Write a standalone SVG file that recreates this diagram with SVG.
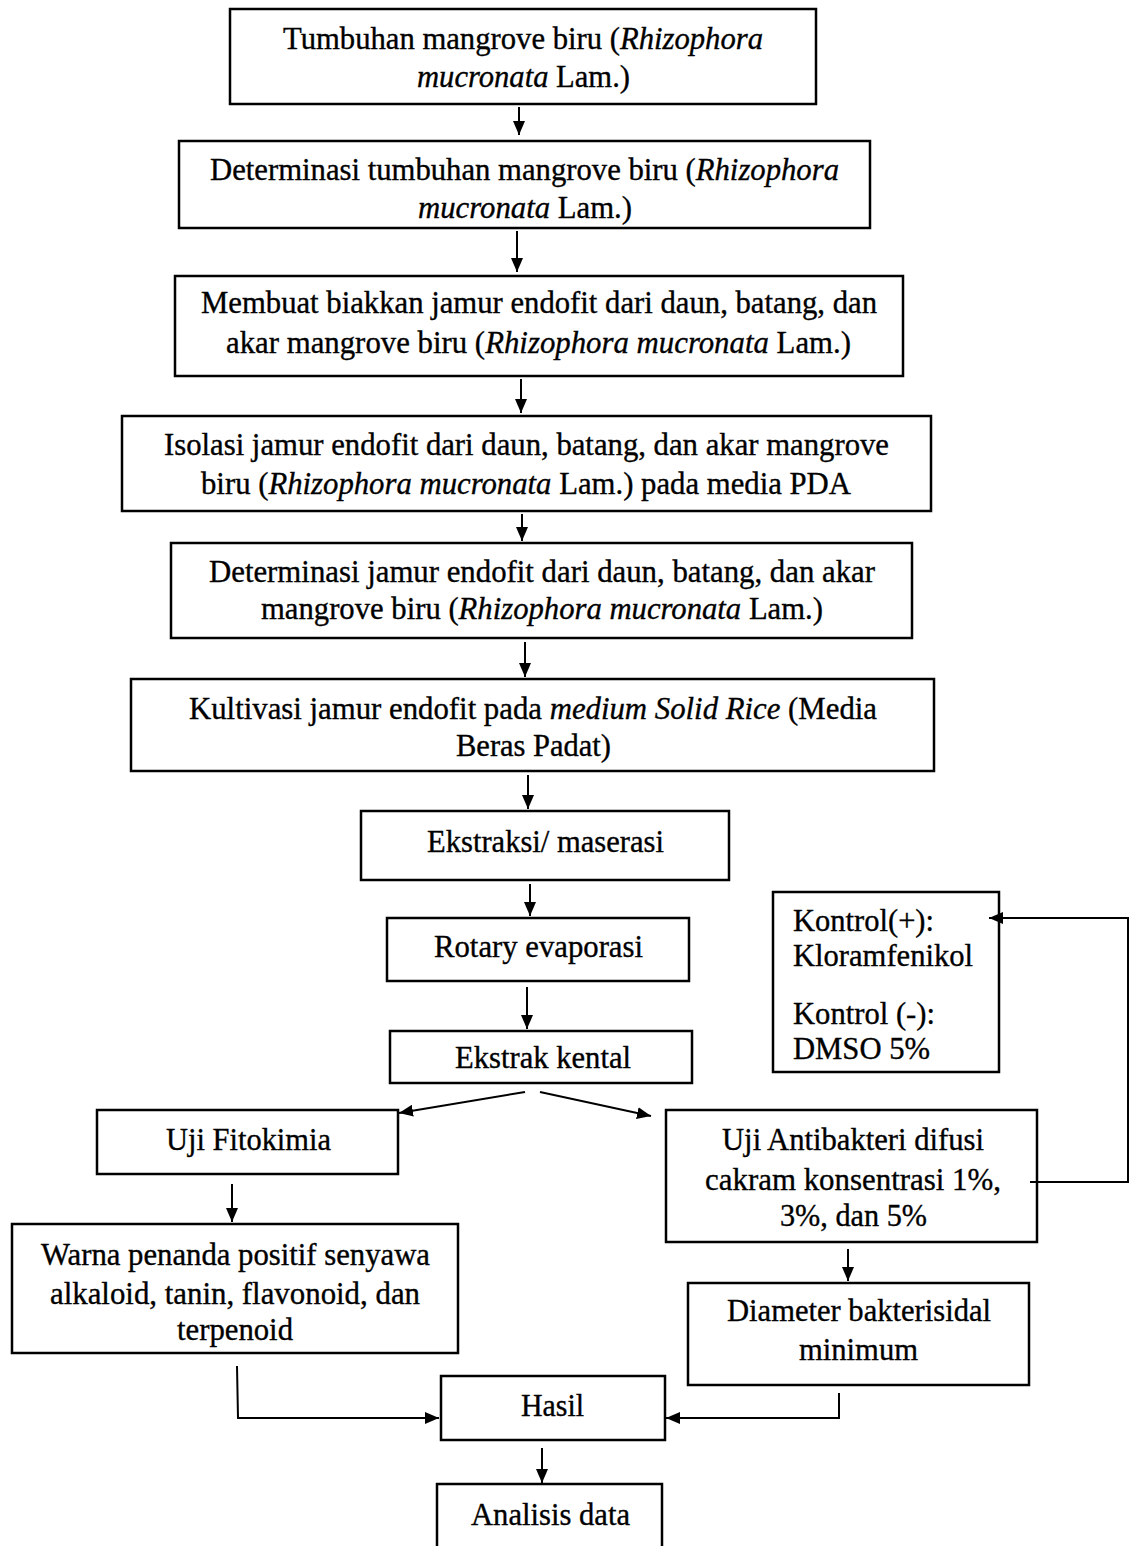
<svg xmlns="http://www.w3.org/2000/svg" width="1131" height="1546" viewBox="0 0 1131 1546">
<style>
.box{fill:#fff;stroke:#000;stroke-width:2.5}
.t{font-family:"Liberation Serif","Times New Roman",serif;font-size:31px;fill:#000;stroke:#000;stroke-width:0.35}
.i{font-style:italic}
.c{fill:none;stroke:#000;stroke-width:2}
</style>
<defs>
<marker id="ah" viewBox="0 0 14 12" refX="14" refY="6" markerWidth="14" markerHeight="12" markerUnits="userSpaceOnUse" orient="auto"><path d="M0,0 L14,6 L0,12 z" fill="#000"/></marker>
</defs>
<rect width="1131" height="1546" fill="#fff"/>
<g id="n1"><rect class="box" x="230" y="9" width="586" height="95"/>
<text class="t" x="283" y="49" textLength="480" lengthAdjust="spacingAndGlyphs">Tumbuhan mangrove biru (<tspan class="i">Rhizophora</tspan></text>
<text class="t" x="417" y="87" textLength="213" lengthAdjust="spacingAndGlyphs"><tspan class="i">mucronata</tspan> Lam.)</text></g>
<g id="n2"><rect class="box" x="179" y="141" width="691" height="87"/>
<text class="t" x="210" y="180" textLength="629" lengthAdjust="spacingAndGlyphs">Determinasi tumbuhan mangrove biru (<tspan class="i">Rhizophora</tspan></text>
<text class="t" x="418" y="218" textLength="214" lengthAdjust="spacingAndGlyphs"><tspan class="i">mucronata</tspan> Lam.)</text></g>
<g id="n3"><rect class="box" x="175" y="276" width="728" height="100"/>
<text class="t" x="201" y="313" textLength="676" lengthAdjust="spacingAndGlyphs">Membuat biakkan jamur endofit dari daun, batang, dan</text>
<text class="t" x="226" y="353" textLength="625" lengthAdjust="spacingAndGlyphs">akar mangrove biru (<tspan class="i">Rhizophora mucronata</tspan> Lam.)</text></g>
<g id="n4"><rect class="box" x="122" y="416" width="809" height="95"/>
<text class="t" x="164" y="455" textLength="725" lengthAdjust="spacingAndGlyphs">Isolasi jamur endofit dari daun, batang, dan akar mangrove</text>
<text class="t" x="201" y="494" textLength="650" lengthAdjust="spacingAndGlyphs">biru (<tspan class="i">Rhizophora mucronata</tspan> Lam.) pada media PDA</text></g>
<g id="n5"><rect class="box" x="171" y="543" width="741" height="95"/>
<text class="t" x="209" y="582" textLength="666" lengthAdjust="spacingAndGlyphs">Determinasi jamur endofit dari daun, batang, dan akar</text>
<text class="t" x="261" y="619" textLength="562" lengthAdjust="spacingAndGlyphs">mangrove biru (<tspan class="i">Rhizophora mucronata</tspan> Lam.)</text></g>
<g id="n6"><rect class="box" x="131" y="679" width="803" height="92"/>
<text class="t" x="189" y="719" textLength="688" lengthAdjust="spacingAndGlyphs">Kultivasi jamur endofit pada <tspan class="i">medium Solid Rice</tspan> (Media</text>
<text class="t" x="456" y="756" textLength="155" lengthAdjust="spacingAndGlyphs">Beras Padat)</text></g>
<g id="n7"><rect class="box" x="361" y="811" width="368" height="69"/>
<text class="t" x="427" y="852" textLength="237" lengthAdjust="spacingAndGlyphs">Ekstraksi/ maserasi</text></g>
<g id="n8"><rect class="box" x="387" y="918" width="302" height="63"/>
<text class="t" x="434" y="957" textLength="209" lengthAdjust="spacingAndGlyphs">Rotary evaporasi</text></g>
<g id="n9"><rect class="box" x="390" y="1031" width="302" height="52"/>
<text class="t" x="455" y="1068" textLength="176" lengthAdjust="spacingAndGlyphs">Ekstrak kental</text></g>
<g id="n10"><rect class="box" x="773" y="892" width="226" height="180"/>
<text class="t" x="793" y="931" textLength="141" lengthAdjust="spacingAndGlyphs">Kontrol(+):</text>
<text class="t" x="793" y="966" textLength="180" lengthAdjust="spacingAndGlyphs">Kloramfenikol</text>
<text class="t" x="793" y="1024" textLength="142" lengthAdjust="spacingAndGlyphs">Kontrol (-):</text>
<text class="t" x="793" y="1059" textLength="137" lengthAdjust="spacingAndGlyphs">DMSO 5%</text></g>
<g id="n11"><rect class="box" x="97" y="1110" width="301" height="64"/>
<text class="t" x="166" y="1150" textLength="165" lengthAdjust="spacingAndGlyphs">Uji Fitokimia</text></g>
<g id="n12"><rect class="box" x="666" y="1110" width="371" height="132"/>
<text class="t" x="722" y="1150" textLength="262" lengthAdjust="spacingAndGlyphs">Uji Antibakteri difusi</text>
<text class="t" x="705" y="1190" textLength="296" lengthAdjust="spacingAndGlyphs">cakram konsentrasi 1%,</text>
<text class="t" x="780" y="1226" textLength="147" lengthAdjust="spacingAndGlyphs">3%, dan 5%</text></g>
<g id="n13"><rect class="box" x="12" y="1224" width="446" height="129"/>
<text class="t" x="41" y="1265" textLength="389" lengthAdjust="spacingAndGlyphs">Warna penanda positif senyawa</text>
<text class="t" x="50" y="1304" textLength="370" lengthAdjust="spacingAndGlyphs">alkaloid, tanin, flavonoid, dan</text>
<text class="t" x="177" y="1340" textLength="116" lengthAdjust="spacingAndGlyphs">terpenoid</text></g>
<g id="n14"><rect class="box" x="688" y="1283" width="341" height="102"/>
<text class="t" x="727" y="1321" textLength="264" lengthAdjust="spacingAndGlyphs">Diameter bakterisidal</text>
<text class="t" x="799" y="1360" textLength="119" lengthAdjust="spacingAndGlyphs">minimum</text></g>
<g id="n15"><rect class="box" x="441" y="1376" width="224" height="64"/>
<text class="t" x="521" y="1416" textLength="63" lengthAdjust="spacingAndGlyphs">Hasil</text></g>
<g id="n16"><rect class="box" x="437" y="1484" width="225" height="90"/>
<text class="t" x="471" y="1525" textLength="159" lengthAdjust="spacingAndGlyphs">Analisis data</text></g>
<g id="connectors">
<path class="c" marker-end="url(#ah)" d="M519,107 V135"/>
<path class="c" marker-end="url(#ah)" d="M517,231 V272"/>
<path class="c" marker-end="url(#ah)" d="M521,379 V413"/>
<path class="c" marker-end="url(#ah)" d="M522,514 V541"/>
<path class="c" marker-end="url(#ah)" d="M525,642 V677"/>
<path class="c" marker-end="url(#ah)" d="M528,775 V809"/>
<path class="c" marker-end="url(#ah)" d="M530,884 V916"/>
<path class="c" marker-end="url(#ah)" d="M527,987 V1029"/>
<path class="c" marker-end="url(#ah)" d="M525,1092 L399,1113"/>
<path class="c" marker-end="url(#ah)" d="M540,1092 L651,1116"/>
<path class="c" marker-end="url(#ah)" d="M232,1184 V1222"/>
<path class="c" marker-end="url(#ah)" d="M848,1249 V1281"/>
<path class="c" marker-end="url(#ah)" d="M237,1366 L238,1418 H439"/>
<path class="c" marker-end="url(#ah)" d="M839,1393 V1418 H666"/>
<path class="c" marker-end="url(#ah)" d="M542,1448 V1483"/>
<path class="c" marker-end="url(#ah)" d="M1030,1182 H1128 V918 H989"/>
</g>
</svg>
